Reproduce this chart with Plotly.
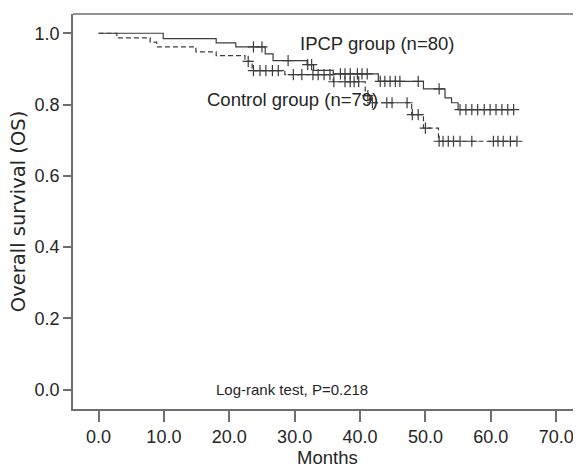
import plotly.graph_objects as go
import numpy as np

# IPCP group: step times (months) and survival after each step
ipcp_time = [0.0, 9.9, 18.0, 21.0, 25.5, 26.7, 31.9, 32.9, 35.9, 42.8, 49.7, 53.0, 54.0, 55.0, 63.5]
ipcp_surv = [1.0, 0.985, 0.973, 0.962, 0.942, 0.923, 0.912, 0.896, 0.886, 0.865, 0.844, 0.819, 0.805, 0.786, 0.786]
ipcp_cens = [23.7, 25.0, 29.0, 32.0, 32.6, 37.0, 37.7, 38.5, 39.6, 40.3, 41.1,
             43.1, 43.8, 44.6, 45.4, 46.1, 48.9, 52.1,
             55.3, 56.2, 57.1, 58.0, 59.0, 59.9, 60.8, 61.7, 62.6, 63.5]

# Control group
ctrl_time = [0.0, 2.8, 7.9, 8.9, 14.9, 18.0, 22.4, 23.5, 28.5, 35.9, 40.8, 41.8, 47.9, 49.7, 52.0, 64.0]
ctrl_surv = [1.0, 0.987, 0.975, 0.962, 0.948, 0.937, 0.921, 0.895, 0.884, 0.864, 0.825, 0.805, 0.772, 0.734, 0.697, 0.697]
ctrl_cens = [22.9, 23.7, 24.7, 25.6, 26.6, 27.5, 29.8, 31.1, 32.8, 33.6, 34.5, 35.4,
             36.0, 37.7, 38.5, 39.1, 39.8, 41.2, 41.9, 44.1, 44.9, 47.2, 48.0, 48.9, 50.0,
             52.1, 52.7, 53.5, 54.3, 55.3, 57.1, 60.4, 61.1, 61.9, 63.0, 64.0]

x_ticks = [0, 10, 20, 30, 40, 50, 60, 70]
y_ticks = [0.0, 0.2, 0.4, 0.6, 0.8, 1.0]

LINE = "#3c3c3c"
TXT = "#262626"
AX = "#6e6e6e"
FONT = "Liberation Sans, Arial, sans-serif"


def surv_at(times, survs, t):
    idx = np.searchsorted(np.array(times), t, side="right") - 1
    return survs[max(idx, 0)]


fig = go.Figure()
fig.add_trace(go.Scatter(x=ipcp_time, y=ipcp_surv, mode="lines", line_shape="hv",
                         line=dict(color=LINE, width=1.2), showlegend=False))
fig.add_trace(go.Scatter(x=ctrl_time, y=ctrl_surv, mode="lines", line_shape="hv",
                         line=dict(color=LINE, width=1.2, dash="5px,3px"), showlegend=False))
fig.add_trace(go.Scatter(x=ipcp_cens, y=[surv_at(ipcp_time, ipcp_surv, t) for t in ipcp_cens],
                         mode="markers", marker=dict(symbol="cross-thin", size=8,
                                                     line=dict(color=LINE, width=1.2)),
                         showlegend=False))
fig.add_trace(go.Scatter(x=ctrl_cens, y=[surv_at(ctrl_time, ctrl_surv, t) for t in ctrl_cens],
                         mode="markers", marker=dict(symbol="cross-thin", size=8,
                                                     line=dict(color=LINE, width=1.2)),
                         showlegend=False))

fig.add_annotation(x=30.5, y=0.97, text="IPCP group (n=80)", showarrow=False,
                   xanchor="left", yanchor="middle", font=dict(size=18.5, color=TXT, family=FONT))
fig.add_annotation(x=16.3, y=0.813, text="Control group (n=79)", showarrow=False,
                   xanchor="left", yanchor="middle", font=dict(size=18.5, color=TXT, family=FONT))
fig.add_annotation(x=17.6, y=0.0, text="Log-rank test, P=0.218", showarrow=False,
                   xanchor="left", yanchor="middle", font=dict(size=15, color=TXT, family=FONT))

# axis titles placed as paper annotations
fig.add_annotation(xref="paper", yref="paper", x=0.5, y=-0.124, text="Months", showarrow=False,
                   xanchor="center", yanchor="middle", font=dict(size=18.5, color=TXT, family=FONT))
fig.add_annotation(xref="paper", yref="paper", x=-0.107, y=0.5, text="Overall survival (OS)",
                   showarrow=False, textangle=-90, xanchor="center", yanchor="middle",
                   font=dict(size=19.5, color=TXT, family="DejaVu Sans, sans-serif"))

fig.add_shape(type="line", xref="paper", yref="paper", x0=0, x1=1, y0=1, y1=1,
              line=dict(color=AX, width=1.5))

fig.update_xaxes(range=[-3.9, 73.8], tickvals=x_ticks, ticktext=[f"{v:.1f}" for v in x_ticks],
                 showline=True, linecolor=AX, linewidth=1.5, ticks="outside", ticklen=11,
                 tickcolor=AX, tickwidth=1.5, showgrid=False, zeroline=False, automargin=False,
                 tickfont=dict(size=18, color=TXT, family=FONT))
fig.update_yaxes(range=[-0.054, 1.054], tickvals=y_ticks, ticktext=[f"{v:.1f}" for v in y_ticks],
                 showline=True, linecolor=AX, linewidth=1.5, ticks="outside", ticklen=8,
                 tickcolor=AX, tickwidth=1.5, showgrid=False, zeroline=False, automargin=False,
                 tickfont=dict(size=18, color=TXT, family=FONT))

fig.update_layout(width=573, height=459, margin=dict(l=65, r=0, t=6, b=58),
                  plot_bgcolor="white", paper_bgcolor="white")

fig.write_html("out.html")
